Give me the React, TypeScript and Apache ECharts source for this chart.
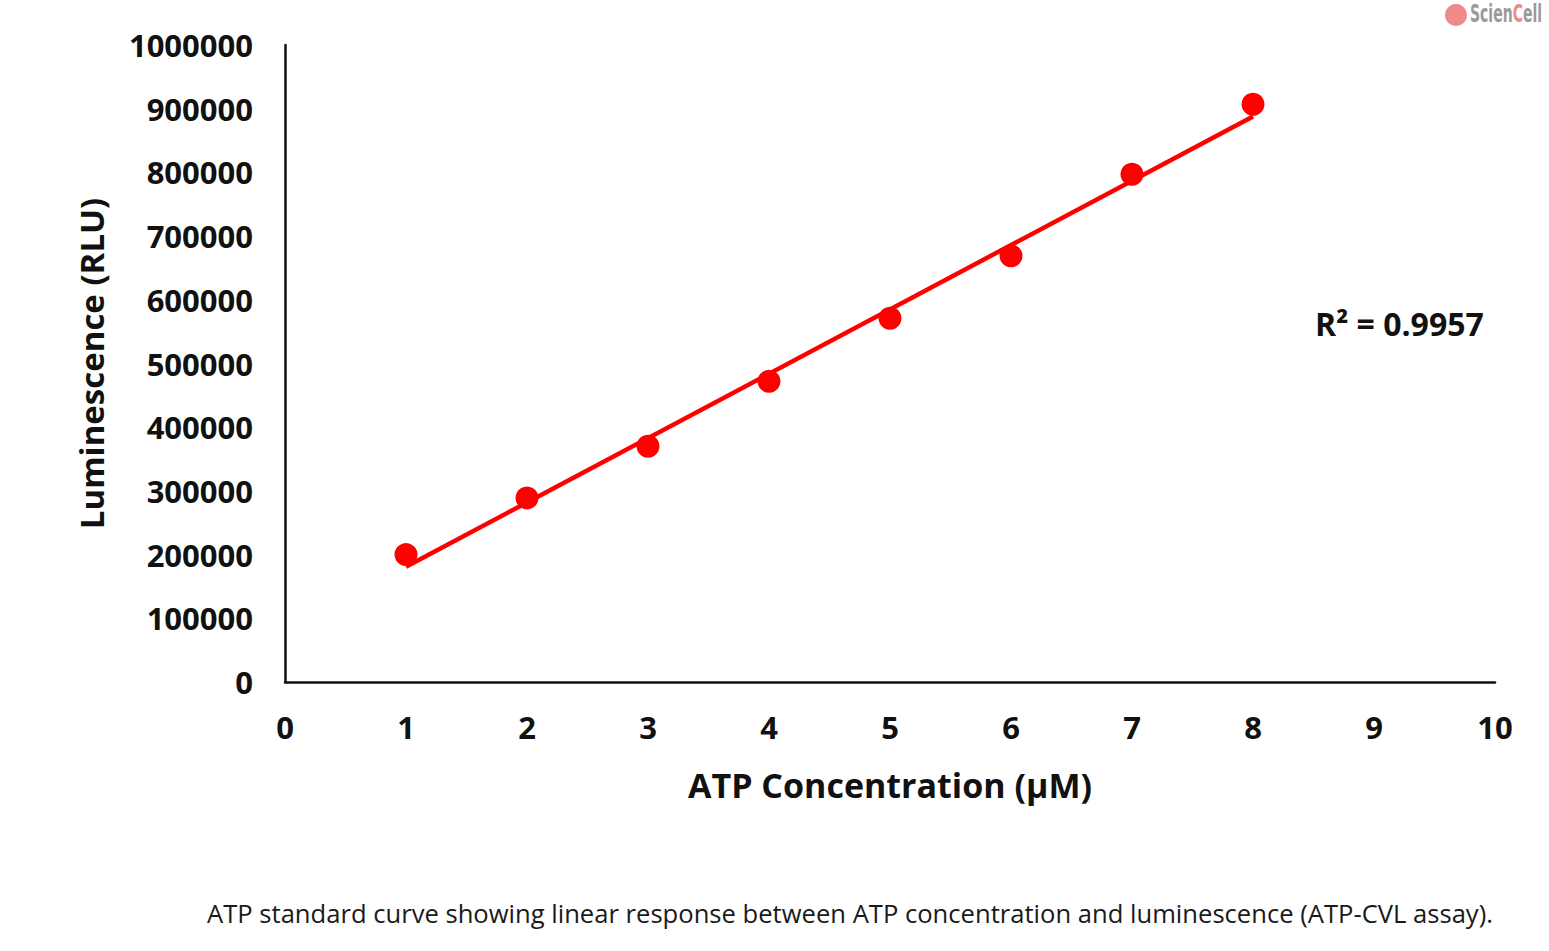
import React, { useEffect, useRef } from "react";
import * as echarts from "echarts";

const concentrations = [1, 2, 3, 4, 5, 6, 7, 8];
const luminescence = [200000, 289000, 370000, 472000, 571000, 669000, 797000, 907000];
const xTicks = [0, 1, 2, 3, 4, 5, 6, 7, 8, 9, 10];
const yTicks = [0, 100000, 200000, 300000, 400000, 500000, 600000, 700000, 800000, 900000, 1000000];
const rSquaredLabel = "R² = 0.9957";
const xTitle = "ATP Concentration (µM)";
const yTitle = "Luminescence (RLU)";
const caption =
  "ATP standard curve showing linear response between ATP concentration and luminescence (ATP-CVL assay).";

function linearFit(xs: number[], ys: number[]) {
  const n = xs.length;
  const mx = xs.reduce((a, b) => a + b, 0) / n;
  const my = ys.reduce((a, b) => a + b, 0) / n;
  let sxy = 0;
  let sxx = 0;
  for (let i = 0; i < n; i++) {
    sxy += (xs[i] - mx) * (ys[i] - my);
    sxx += (xs[i] - mx) * (xs[i] - mx);
  }
  const slope = sxy / sxx;
  return { slope, intercept: my - slope * mx };
}

const FONT = "'Open Sans', 'Noto Sans', sans-serif";

export default function App() {
  const ref = useRef<HTMLDivElement>(null);
  useEffect(() => {
    if (!ref.current) return;
    const chart = echarts.init(ref.current, undefined, { renderer: "svg" });
    const fit = linearFit(concentrations, luminescence);
    const x0 = concentrations[0];
    const x1 = concentrations[concentrations.length - 1];
    const trend = [
      [x0, fit.slope * x0 + fit.intercept],
      [x1, fit.slope * x1 + fit.intercept],
    ];
    chart.setOption({
      animation: false,
      backgroundColor: "#ffffff",
      textStyle: { fontFamily: FONT },
      grid: { left: 285, top: 45, width: 1210, height: 637, containLabel: false },
      xAxis: {
        type: "value",
        min: xTicks[0],
        max: xTicks[xTicks.length - 1],
        interval: 1,
        name: xTitle,
        nameLocation: "middle",
        nameGap: 86,
        nameTextStyle: { fontFamily: FONT, fontWeight: "bold", fontSize: 34, color: "#111" },
        axisLine: { show: true, lineStyle: { color: "#111", width: 2.5 } },
        axisTick: { show: false },
        splitLine: { show: false },
        axisLabel: {
          margin: 29,
          fontFamily: FONT,
          fontWeight: "bold",
          fontSize: 31,
          color: "#111",
          formatter: (v: number) => String(v),
        },
      },
      yAxis: {
        type: "value",
        min: yTicks[0],
        max: yTicks[yTicks.length - 1],
        interval: 100000,
        name: yTitle,
        nameLocation: "middle",
        nameRotate: 90,
        nameGap: 177,
        nameTextStyle: { fontFamily: FONT, fontWeight: "bold", fontSize: 33, color: "#111" },
        axisLine: { show: true, lineStyle: { color: "#111", width: 2.5 } },
        axisTick: { show: false },
        splitLine: { show: false },
        axisLabel: {
          margin: 32,
          fontFamily: FONT,
          fontWeight: "bold",
          fontSize: 31,
          color: "#111",
          formatter: (v: number) => String(v),
        },
      },
      series: [
        {
          type: "scatter",
          data: concentrations.map((c, i) => [c, luminescence[i]]),
          symbol: "circle",
          symbolSize: 23,
          itemStyle: { color: "#ff0000", opacity: 1 },
          z: 2,
        },
        {
          type: "line",
          data: trend,
          symbol: "none",
          lineStyle: { color: "#ff0000", width: 4.5 },
          z: 3,
        },
      ],
      graphic: [
        {
          type: "text",
          left: 1315,
          top: 307,
          style: {
            text: rSquaredLabel,
            font: `bold 32px ${FONT}`,
            fill: "#111",
          },
        },
        {
          type: "text",
          left: 207,
          top: 900,
          style: {
            text: caption,
            font: `25.6px ${FONT}`,
            fill: "#1a1a1a",
          },
        },
        {
          type: "circle",
          shape: { cx: 1456, cy: 15, r: 11 },
          style: { fill: "#f08a8a" },
        },
        {
          type: "text",
          x: 1470,
          y: 1,
          scaleX: 0.56,
          scaleY: 1,
          style: {
            text: "{g|Scien}{r|C}{g|ell}",
            rich: {
              g: { font: "bold 25px 'DejaVu Sans', sans-serif", fill: "#9a9a9a" },
              r: { font: "bold 25px 'DejaVu Sans', sans-serif", fill: "#f08a8a" },
            },
          },
        },
      ],
    });
    return () => chart.dispose();
  }, []);
  return (
    <div
      ref={ref}
      style={{ position: "absolute", left: 0, top: 0, width: 1549, height: 951 }}
    />
  );
}
